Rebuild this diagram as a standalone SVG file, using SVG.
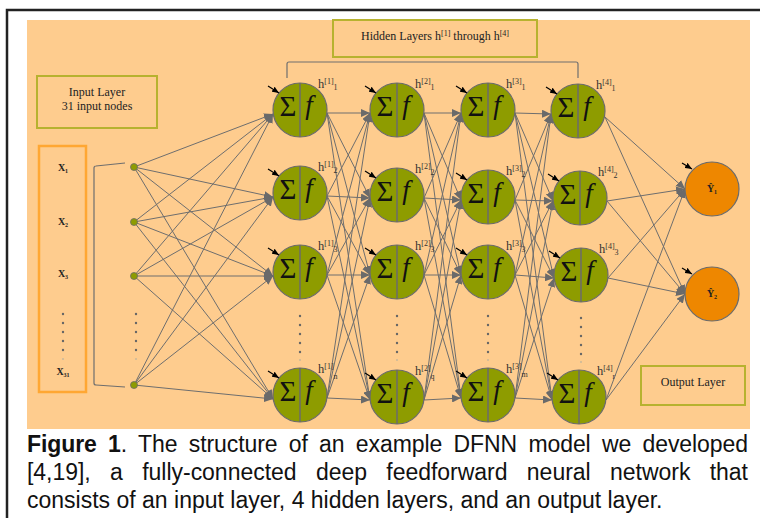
<svg xmlns="http://www.w3.org/2000/svg" width="760" height="518" viewBox="0 0 760 518">
<defs>
<marker id="ah" markerUnits="userSpaceOnUse" markerWidth="9" markerHeight="8" refX="9" refY="4" orient="auto"><path d="M0,0 L9,4 L0,8 z" fill="#6A6A6A"/></marker>
<marker id="bh" markerUnits="userSpaceOnUse" markerWidth="7" markerHeight="6" refX="7" refY="3" orient="auto"><path d="M0,0 L7,3 L0,6 z" fill="#000"/></marker>
<style>
.nd circle{fill:#8E9C00;stroke:#6B6B6B;stroke-width:1.2}
.nd .mid{stroke:#6B6B6B;stroke-width:1.5}
.bias{stroke:#000;stroke-width:1.2;marker-end:url(#bh)}
.sig{font-family:"Liberation Serif",serif;font-size:29px;fill:#111;text-anchor:middle}
.fn{font-family:"Liberation Serif",serif;font-style:italic;font-size:27px;fill:#111;text-anchor:middle}
.lbl{font-family:"Liberation Serif",serif;font-size:12.5px;fill:#333}
.lbl tspan{font-size:8px}
.cn line{stroke:#6E6E6E;stroke-width:1;marker-end:url(#ah)}
.box{fill:none;stroke:#B7B22F;stroke-width:2}
.bt{font-family:"Liberation Serif",serif;font-size:12px;fill:#222;text-anchor:middle}
.xl{font-family:"Liberation Serif",serif;font-size:10px;font-weight:bold;fill:#222;text-anchor:middle}
.dot circle{fill:#666;stroke:none}
.dot circle.fade{fill:#c8b89a}
.cap{font-family:"Liberation Sans",Arial,sans-serif;font-size:23px;fill:#111}
.in > circle{fill:#8E9C00;stroke:#6B6B6B;stroke-width:0.8}
.out circle{fill:#EE8700;stroke:#6B6B6B;stroke-width:1.2}
</style>
</defs>
<rect x="0" y="0" width="760" height="518" fill="#fff"/>
<path d="M7,518 L7,10 L760,10" fill="none" stroke="#222" stroke-width="2.5"/>
<rect x="27" y="20" width="723" height="409" fill="#FECC8E"/>

<g id="hidden-label">
<rect class="box" x="333" y="20" width="204" height="37"/>
<text class="bt" x="435" y="40">Hidden Layers h<tspan font-size="8" dy="-4">[1]</tspan><tspan dy="4"> through h</tspan><tspan font-size="8" dy="-4">[4]</tspan></text>
</g>
<g id="input-label">
<rect class="box" x="37" y="76" width="120" height="52"/>
<text class="bt" x="97" y="96">Input Layer</text>
<text class="bt" x="97" y="110">31 input nodes</text>
</g>
<g id="output-label">
<rect class="box" x="641" y="366" width="104" height="39"/>
<text class="bt" x="693" y="386">Output Layer</text>
</g>

<g id="x-box">
<rect x="39" y="146" width="47" height="246" fill="none" stroke="#FFA733" stroke-width="2.5"/>
<text class="xl" x="63" y="171">X<tspan font-size="6" dy="2">1</tspan></text>
<text class="xl" x="63" y="225">X<tspan font-size="6" dy="2">2</tspan></text>
<text class="xl" x="63" y="277">X<tspan font-size="6" dy="2">3</tspan></text>
<text class="xl" x="63" y="375">X<tspan font-size="6" dy="2">31</tspan></text>
<g class="dot"><circle cx="63" cy="314" r="1.2"/><circle cx="63" cy="323" r="1.2"/><circle cx="63" cy="332" r="1.2"/><circle cx="63" cy="341" r="1.2"/><circle cx="63" cy="350" r="1.2"/><circle class="fade" cx="63" cy="359" r="1"/></g>
</g>

<g id="brackets" fill="none" stroke="#6E6E6E" stroke-width="1.2">
<path d="M125,163 L96,166 Q94,166 94,168 L94,383 Q94,385 96,385 L125,387"/>
<path d="M287,78 L287,64 Q287,62 289,62 L576,62 Q578,62 578,64 L578,78"/>
</g>

<g id="connectors" class="cn">
<line x1="134" y1="167" x2="273" y2="114"/><line x1="134" y1="167" x2="273" y2="197"/><line x1="134" y1="167" x2="273" y2="276"/><line x1="134" y1="167" x2="273" y2="399"/>
<line x1="134" y1="222" x2="273" y2="114"/><line x1="134" y1="222" x2="273" y2="197"/><line x1="134" y1="222" x2="273" y2="276"/><line x1="134" y1="222" x2="273" y2="399"/>
<line x1="134" y1="276" x2="273" y2="114"/><line x1="134" y1="276" x2="273" y2="197"/><line x1="134" y1="276" x2="273" y2="276"/><line x1="134" y1="276" x2="273" y2="399"/>
<line x1="134" y1="385" x2="273" y2="114"/><line x1="134" y1="385" x2="273" y2="197"/><line x1="134" y1="385" x2="273" y2="276"/><line x1="134" y1="385" x2="273" y2="399"/>

<line x1="327" y1="113" x2="370" y2="113"/><line x1="327" y1="113" x2="370" y2="198"/><line x1="327" y1="113" x2="370" y2="275"/><line x1="327" y1="113" x2="370" y2="400"/>
<line x1="327" y1="196" x2="370" y2="113"/><line x1="327" y1="196" x2="370" y2="198"/><line x1="327" y1="196" x2="370" y2="275"/><line x1="327" y1="196" x2="370" y2="400"/>
<line x1="327" y1="275" x2="370" y2="113"/><line x1="327" y1="275" x2="370" y2="198"/><line x1="327" y1="275" x2="370" y2="275"/><line x1="327" y1="275" x2="370" y2="400"/>
<line x1="327" y1="398" x2="370" y2="113"/><line x1="327" y1="398" x2="370" y2="198"/><line x1="327" y1="398" x2="370" y2="275"/><line x1="327" y1="398" x2="370" y2="400"/>

<line x1="424" y1="113" x2="461" y2="113"/><line x1="424" y1="113" x2="461" y2="200"/><line x1="424" y1="113" x2="461" y2="275"/><line x1="424" y1="113" x2="461" y2="398"/>
<line x1="424" y1="198" x2="461" y2="113"/><line x1="424" y1="198" x2="461" y2="200"/><line x1="424" y1="198" x2="461" y2="275"/><line x1="424" y1="198" x2="461" y2="398"/>
<line x1="424" y1="275" x2="461" y2="113"/><line x1="424" y1="275" x2="461" y2="200"/><line x1="424" y1="275" x2="461" y2="275"/><line x1="424" y1="275" x2="461" y2="398"/>
<line x1="424" y1="400" x2="461" y2="113"/><line x1="424" y1="400" x2="461" y2="200"/><line x1="424" y1="400" x2="461" y2="275"/><line x1="424" y1="400" x2="461" y2="398"/>

<line x1="515" y1="113" x2="551" y2="114"/><line x1="515" y1="113" x2="553" y2="201"/><line x1="515" y1="113" x2="554" y2="278"/><line x1="515" y1="113" x2="552" y2="400"/>
<line x1="515" y1="200" x2="551" y2="114"/><line x1="515" y1="200" x2="553" y2="201"/><line x1="515" y1="200" x2="554" y2="278"/><line x1="515" y1="200" x2="552" y2="400"/>
<line x1="515" y1="275" x2="551" y2="114"/><line x1="515" y1="275" x2="553" y2="201"/><line x1="515" y1="275" x2="554" y2="278"/><line x1="515" y1="275" x2="552" y2="400"/>
<line x1="515" y1="398" x2="551" y2="114"/><line x1="515" y1="398" x2="553" y2="201"/><line x1="515" y1="398" x2="554" y2="278"/><line x1="515" y1="398" x2="552" y2="400"/>

<line x1="605" y1="117" x2="685" y2="189"/><line x1="605" y1="117" x2="685" y2="294"/>
<line x1="607" y1="201" x2="685" y2="189"/><line x1="607" y1="201" x2="685" y2="294"/>
<line x1="608" y1="278" x2="685" y2="189"/><line x1="608" y1="278" x2="685" y2="294"/>
<line x1="606" y1="400" x2="685" y2="189"/><line x1="606" y1="400" x2="685" y2="294"/>
</g>

<g id="inputs" class="in">
<circle cx="134" cy="167" r="3.5"/><circle cx="134" cy="222" r="3.5"/><circle cx="134" cy="276" r="3.5"/><circle cx="134" cy="385" r="3.5"/>
<g class="dot"><circle cx="136" cy="314" r="1.2"/><circle cx="136" cy="323" r="1.2"/><circle cx="136" cy="332" r="1.2"/><circle cx="136" cy="341" r="1.2"/><circle cx="136" cy="350" r="1.2"/><circle class="fade" cx="136" cy="359" r="1"/></g>
</g>

<g id="h1_1" class="nd" transform="translate(300,110)"><circle r="27"/><line class="mid" y1="-27" y2="27"/><text class="sig" x="-12" y="6">Σ</text><text class="fn" x="9" y="4">f</text><line class="bias" x1="-32" y1="-24" x2="-21" y2="-17"/><text class="lbl" x="18" y="-22">h<tspan dy="-4">[1]</tspan><tspan dy="6">1</tspan></text></g>
<g id="h1_2" class="nd" transform="translate(300,193)"><circle r="27"/><line class="mid" y1="-27" y2="27"/><text class="sig" x="-12" y="6">Σ</text><text class="fn" x="9" y="4">f</text><line class="bias" x1="-32" y1="-24" x2="-21" y2="-17"/><text class="lbl" x="18" y="-22">h<tspan dy="-4">[1]</tspan><tspan dy="6">2</tspan></text></g>
<g id="h1_3" class="nd" transform="translate(300,272)"><circle r="27"/><line class="mid" y1="-27" y2="27"/><text class="sig" x="-12" y="6">Σ</text><text class="fn" x="9" y="4">f</text><line class="bias" x1="-32" y1="-24" x2="-21" y2="-17"/><text class="lbl" x="18" y="-22">h<tspan dy="-4">[1]</tspan><tspan dy="6">3</tspan></text></g>
<g id="h1_n" class="nd" transform="translate(300,395)"><circle r="27"/><line class="mid" y1="-27" y2="27"/><text class="sig" x="-12" y="6">Σ</text><text class="fn" x="9" y="4">f</text><line class="bias" x1="-32" y1="-24" x2="-21" y2="-17"/><text class="lbl" x="18" y="-22">h<tspan dy="-4">[1]</tspan><tspan dy="10">n</tspan></text></g>
<g class="dot"><circle cx="300" cy="316" r="1.2"/><circle cx="300" cy="325" r="1.2"/><circle cx="300" cy="334" r="1.2"/><circle cx="300" cy="343" r="1.2"/><circle cx="300" cy="352" r="1.2"/><circle class="fade" cx="300" cy="360" r="1"/></g>

<g id="h2_1" class="nd" transform="translate(397,110)"><circle r="27"/><line class="mid" y1="-27" y2="27"/><text class="sig" x="-12" y="6">Σ</text><text class="fn" x="9" y="4">f</text><line class="bias" x1="-32" y1="-24" x2="-21" y2="-17"/><text class="lbl" x="18" y="-22">h<tspan dy="-4">[2]</tspan><tspan dy="6">1</tspan></text></g>
<g id="h2_2" class="nd" transform="translate(397,195)"><circle r="27"/><line class="mid" y1="-27" y2="27"/><text class="sig" x="-12" y="6">Σ</text><text class="fn" x="9" y="4">f</text><line class="bias" x1="-32" y1="-24" x2="-21" y2="-17"/><text class="lbl" x="18" y="-22">h<tspan dy="-4">[2]</tspan><tspan dy="6">2</tspan></text></g>
<g id="h2_3" class="nd" transform="translate(397,272)"><circle r="27"/><line class="mid" y1="-27" y2="27"/><text class="sig" x="-12" y="6">Σ</text><text class="fn" x="9" y="4">f</text><line class="bias" x1="-32" y1="-24" x2="-21" y2="-17"/><text class="lbl" x="18" y="-22">h<tspan dy="-4">[2]</tspan><tspan dy="6">3</tspan></text></g>
<g id="h2_q" class="nd" transform="translate(397,397)"><circle r="27"/><line class="mid" y1="-27" y2="27"/><text class="sig" x="-12" y="6">Σ</text><text class="fn" x="9" y="4">f</text><line class="bias" x1="-32" y1="-24" x2="-21" y2="-17"/><text class="lbl" x="18" y="-22">h<tspan dy="-4">[2]</tspan><tspan dy="8">q</tspan></text></g>
<g class="dot"><circle cx="397" cy="316" r="1.2"/><circle cx="397" cy="325" r="1.2"/><circle cx="397" cy="334" r="1.2"/><circle cx="397" cy="343" r="1.2"/><circle cx="397" cy="352" r="1.2"/><circle class="fade" cx="397" cy="360" r="1"/></g>

<g id="h3_1" class="nd" transform="translate(488,110)"><circle r="27"/><line class="mid" y1="-27" y2="27"/><text class="sig" x="-12" y="6">Σ</text><text class="fn" x="9" y="4">f</text><line class="bias" x1="-32" y1="-24" x2="-21" y2="-17"/><text class="lbl" x="18" y="-22">h<tspan dy="-4">[3]</tspan><tspan dy="6">1</tspan></text></g>
<g id="h3_2" class="nd" transform="translate(488,197)"><circle r="27"/><line class="mid" y1="-27" y2="27"/><text class="sig" x="-12" y="6">Σ</text><text class="fn" x="9" y="4">f</text><line class="bias" x1="-32" y1="-24" x2="-21" y2="-17"/><text class="lbl" x="18" y="-22">h<tspan dy="-4">[3]</tspan><tspan dy="6">2</tspan></text></g>
<g id="h3_3" class="nd" transform="translate(488,272)"><circle r="27"/><line class="mid" y1="-27" y2="27"/><text class="sig" x="-12" y="6">Σ</text><text class="fn" x="9" y="4">f</text><line class="bias" x1="-32" y1="-24" x2="-21" y2="-17"/><text class="lbl" x="18" y="-22">h<tspan dy="-4">[3]</tspan><tspan dy="6">3</tspan></text></g>
<g id="h3_m" class="nd" transform="translate(488,395)"><circle r="27"/><line class="mid" y1="-27" y2="27"/><text class="sig" x="-12" y="6">Σ</text><text class="fn" x="9" y="4">f</text><line class="bias" x1="-32" y1="-24" x2="-21" y2="-17"/><text class="lbl" x="18" y="-22">h<tspan dy="-4">[3]</tspan><tspan dy="8">m</tspan></text></g>
<g class="dot"><circle cx="488" cy="316" r="1.2"/><circle cx="488" cy="325" r="1.2"/><circle cx="488" cy="334" r="1.2"/><circle cx="488" cy="343" r="1.2"/><circle cx="488" cy="352" r="1.2"/><circle class="fade" cx="488" cy="360" r="1"/></g>

<g id="h4_1" class="nd" transform="translate(578,111)"><circle r="27"/><line class="mid" y1="-27" y2="27"/><text class="sig" x="-12" y="6">Σ</text><text class="fn" x="9" y="4">f</text><line class="bias" x1="-32" y1="-24" x2="-21" y2="-17"/><text class="lbl" x="18" y="-22">h<tspan dy="-4">[4]</tspan><tspan dy="6">1</tspan></text></g>
<g id="h4_2" class="nd" transform="translate(580,198)"><circle r="27"/><line class="mid" y1="-27" y2="27"/><text class="sig" x="-12" y="6">Σ</text><text class="fn" x="9" y="4">f</text><line class="bias" x1="-32" y1="-24" x2="-21" y2="-17"/><text class="lbl" x="18" y="-22">h<tspan dy="-4">[4]</tspan><tspan dy="6">2</tspan></text></g>
<g id="h4_3" class="nd" transform="translate(581,275)"><circle r="27"/><line class="mid" y1="-27" y2="27"/><text class="sig" x="-12" y="6">Σ</text><text class="fn" x="9" y="4">f</text><line class="bias" x1="-32" y1="-24" x2="-21" y2="-17"/><text class="lbl" x="18" y="-22">h<tspan dy="-4">[4]</tspan><tspan dy="6">3</tspan></text></g>
<g id="h4_r" class="nd" transform="translate(579,397)"><circle r="27"/><line class="mid" y1="-27" y2="27"/><text class="sig" x="-12" y="6">Σ</text><text class="fn" x="9" y="4">f</text><line class="bias" x1="-32" y1="-24" x2="-21" y2="-17"/><text class="lbl" x="18" y="-22">h<tspan dy="-4">[4]</tspan><tspan dy="8">r</tspan></text></g>
<g class="dot"><circle cx="581" cy="318" r="1.2"/><circle cx="581" cy="327" r="1.2"/><circle cx="581" cy="336" r="1.2"/><circle cx="581" cy="345" r="1.2"/><circle cx="581" cy="354" r="1.2"/><circle class="fade" cx="581" cy="362" r="1"/></g>

<g id="y1" class="out" transform="translate(712,189)"><circle r="27"/><line class="bias" x1="-30" y1="-26" x2="-20" y2="-20"/><text class="xl" x="0" y="3">Ŷ<tspan font-size="6" dy="2">1</tspan></text></g>
<g id="y2" class="out" transform="translate(712,294)"><circle r="27"/><line class="bias" x1="-30" y1="-26" x2="-20" y2="-20"/><text class="xl" x="0" y="3">Ŷ<tspan font-size="6" dy="2">2</tspan></text></g>

<g id="caption" class="cap">
<text x="27" y="452" word-spacing="5" textLength="721" lengthAdjust="spacing"><tspan font-weight="bold">Figure 1</tspan>. The structure of an example DFNN model we developed</text>
<text x="27" y="480" word-spacing="13" textLength="721" lengthAdjust="spacing">[4,19], a fully-connected deep feedforward neural network that</text>
<text x="27" y="508">consists of an input layer, 4 hidden layers, and an output layer.</text>
</g>
</svg>
